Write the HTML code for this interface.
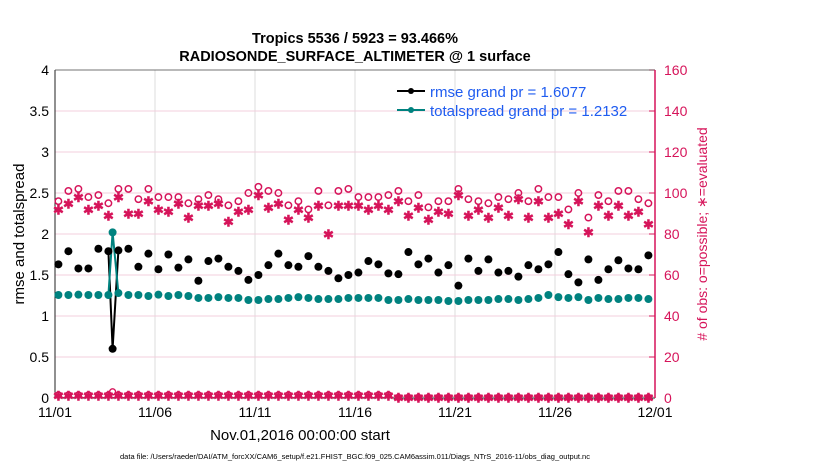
<!DOCTYPE html>
<html><head><meta charset="utf-8"><style>
body{margin:0;background:#fff;}
svg{font-family:"Liberation Sans",sans-serif;}
</style></head><body>
<svg id="c" width="830" height="470" xmlns="http://www.w3.org/2000/svg"></svg>
<script>
const rmse=[1.63,1.79,1.58,1.58,1.82,1.79,1.80,1.82,1.60,1.76,1.57,1.75,1.59,1.69,1.43,1.67,1.70,1.60,1.55,1.44,1.50,1.62,1.76,1.62,1.60,1.73,1.60,1.55,1.46,1.50,1.53,
1.67,1.63,1.52,1.51,1.78,1.63,1.70,1.53,1.62,1.37,1.70,1.55,1.69,1.53,1.55,1.48,1.62,1.57,1.63,1.78,1.51,1.41,1.69,1.44,1.57,1.68,1.58,1.57,1.74];
const spread=[1.256,1.256,1.26,1.256,1.256,1.256,1.28,1.256,1.256,1.244,1.26,1.244,1.256,1.244,1.22,1.22,1.23,1.22,1.22,1.195,1.195,1.207,1.207,1.22,1.23,1.22,1.207,1.207,1.207,1.22,1.22,
1.22,1.22,1.195,1.195,1.207,1.195,1.195,1.195,1.183,1.183,1.195,1.195,1.195,1.207,1.207,1.195,1.207,1.22,1.256,1.23,1.22,1.23,1.195,1.22,1.207,1.207,1.22,1.22,1.207];
const possible=[96,101,102,98,99,95,102,102,97,102,98,98,98,95,97,99,97,94,96,100,103,101,100,94,96,92,101,94,101,102,98,
98,98,99,101,96,99,93,96,96,102,97,96,95,98,97,100,96,102,98,98,92,100,88,99,96,101,101,97,95];
const evaluated=[92,95,98,92,94,89,98,90,90,96,92,91,95,88,94,94,95,86,91,92,99,93,95,87,92,88,94,80,94,94,94,
92,94,92,96,89,93,87,91,90,99,89,92,88,93,89,97,88,96,88,90,85,96,81,94,89,94,89,91,85];
const spikeDay=2.88, spikeRmse=0.60, spikeSpread=2.02, spikePossible=3, spikeEval=2;
const xTicks=["11/01","11/06","11/11","11/16","11/21","11/26","12/01"];
const yLeftTicks=["0","0.5","1","1.5","2","2.5","3","3.5","4"];
const yRightTicks=["0","20","40","60","80","100","120","140","160"];
const svg=document.getElementById('c');const NS="http://www.w3.org/2000/svg";
const X0=55,X1=655,Y0=398,Y1=70;
const xs=d=>X0+(X1-X0)*d/30, yl=v=>Y0-(Y0-Y1)*v/4, yr=v=>Y0-(Y0-Y1)*v/160;
const day=i=>0.17+0.5*i;
function mk(t,a,txt){const e=document.createElementNS(NS,t);for(const k in a)e.setAttribute(k,a[k]);if(txt!==undefined)e.textContent=txt;svg.appendChild(e);return e;}
const pink="#d6145a",teal="#00827f";
for(let i=0;i<xTicks.length;i++){const x=xs(i*5);
const g=mk('line',{x1:x,x2:x,y1:Y1,y2:Y0,stroke:'#dcdcdc','stroke-width':1});

const t=mk('text',{x:x,y:Y0+19,'text-anchor':'middle','font-size':14},xTicks[i]);
}
for(let i=0;i<yRightTicks.length;i++){const y=yr(i*20);
if(i>0&&i<8){const g=mk('line',{x1:X0,x2:X1,y1:y,y2:y,stroke:'#f3cfdc','stroke-width':1});
}
const t=mk('text',{x:X1+9,y:y+5,'font-size':14,fill:pink},yRightTicks[i]);

const tk=mk('line',{x1:X1-6,x2:X1,y1:y,y2:y,stroke:pink});
}
for(let i=0;i<yLeftTicks.length;i++){const y=yl(i*0.5);
const t=mk('text',{x:X0-6,y:y+5,'text-anchor':'end','font-size':14},yLeftTicks[i]);
}
let a=mk('line',{x1:X0,x2:X0,y1:Y1,y2:Y0,stroke:'#222'});
a=mk('line',{x1:X0,x2:X1,y1:Y1,y2:Y1,stroke:'#444','stroke-width':0.8});
a=mk('line',{x1:X0,x2:X1,y1:Y0,y2:Y0,stroke:'#222'});
a=mk('line',{x1:X1,x2:X1,y1:Y1,y2:Y0,stroke:pink,'stroke-width':1.5});
for(let i=0;i<60;i++){const v=i<34?1.5:0.3;
const c=mk('circle',{cx:xs(day(i)),cy:yr(v),r:3,fill:'none',stroke:pink,'stroke-width':1.4});

const s=mk('text',{x:xs(day(i)),y:yr(v*0.8)+5,'text-anchor':'middle','font-size':13,fill:pink,'font-weight':'bold'},'✱');
}
let sp=mk('circle',{cx:xs(spikeDay),cy:yr(spikePossible),r:3,fill:'none',stroke:pink,'stroke-width':1.4});

for(let i=0;i<60;i++){const x=xs(day(i));
const c=mk('circle',{cx:x,cy:yr(possible[i]),r:3.2,fill:'none',stroke:pink,'stroke-width':1.5});

const s=mk('text',{x:x,y:yr(evaluated[i])+5,'text-anchor':'middle','font-size':13,fill:pink,'font-weight':'bold'},'✱');
}
const i5=5,i6=6;
let l=mk('polyline',{points:`${xs(day(i5))},${yl(rmse[i5])} ${xs(spikeDay)},${yl(spikeRmse)} ${xs(day(i6))},${yl(rmse[i6])}`,fill:'none',stroke:'#000','stroke-width':2});

l=mk('polyline',{points:`${xs(day(i5))},${yl(spread[i5])} ${xs(spikeDay)},${yl(spikeSpread)} ${xs(day(i6))},${yl(spread[i6])}`,fill:'none',stroke:teal,'stroke-width':2});

for(let i=0;i<60;i++){const x=xs(day(i));
const c=mk('circle',{cx:x,cy:yl(spread[i]),r:4,fill:teal});

const b=mk('circle',{cx:x,cy:yl(rmse[i]),r:4,fill:'#000'});
}
let q=mk('circle',{cx:xs(spikeDay),cy:yl(spikeSpread),r:4,fill:teal});
q=mk('circle',{cx:xs(spikeDay),cy:yl(spikeRmse),r:4,fill:'#000'});
</script>
<svg width="830" height="470" style="position:absolute;left:0;top:0">
<text x="355" y="43" text-anchor="middle" font-size="14.5" font-weight="bold">Tropics 5536 / 5923 = 93.466%</text>
<text x="355" y="61" text-anchor="middle" font-size="14.5" font-weight="bold">RADIOSONDE_SURFACE_ALTIMETER @ 1 surface</text>
<g>
<line x1="397" x2="425" y1="91" y2="91" stroke="#000" stroke-width="2"/><circle cx="411" cy="91" r="3" fill="#000"/>
<text x="430" y="97" font-size="15" fill="#1f5cf0">rmse grand pr = 1.6077</text>
<line x1="397" x2="425" y1="110" y2="110" stroke="#00827f" stroke-width="2"/><circle cx="411" cy="110" r="3" fill="#00827f"/>
<text x="430" y="116" font-size="15" fill="#1f5cf0">totalspread grand pr = 1.2132</text>
</g>
<text x="300" y="440" text-anchor="middle" font-size="15">Nov.01,2016 00:00:00 start</text>
<text transform="translate(24,234) rotate(-90)" text-anchor="middle" font-size="15">rmse and totalspread</text>
<text transform="translate(707,234) rotate(-90)" text-anchor="middle" font-size="14" fill="#d6145a"># of obs: o=possible; ∗=evaluated</text>
<text x="355" y="459" text-anchor="middle" font-size="7.5">data file: /Users/raeder/DAI/ATM_forcXX/CAM6_setup/f.e21.FHIST_BGC.f09_025.CAM6assim.011/Diags_NTrS_2016-11/obs_diag_output.nc</text>
</svg>
</body></html>
